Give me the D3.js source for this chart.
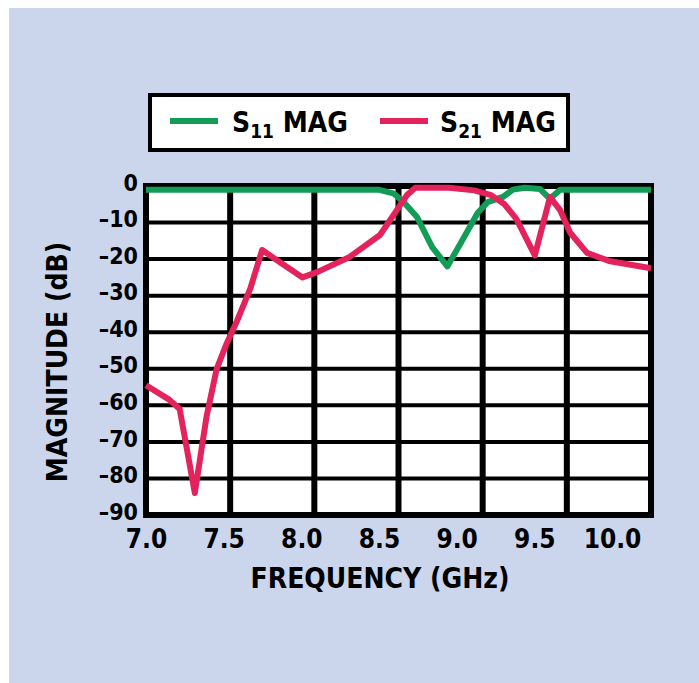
<!DOCTYPE html>
<html>
<head>
<meta charset="utf-8">
<script src="https://cdn.jsdelivr.net/npm/d3@7"></script>
<style>
  html, body { margin: 0; padding: 0; background: #fff; }
  svg { display: block; }
  text { font-family: "DejaVu Sans Condensed", "DejaVu Sans", sans-serif; font-weight: bold; fill: #000; }
</style>
</head>
<body>
<svg id="chart" width="699" height="683"></svg>
<script>
// S11 magnitude (green), dB vs GHz
const s11Freq = [7.0, 8.0, 8.38, 8.47, 8.53, 8.61, 8.70, 8.79, 8.87, 8.97, 9.03, 9.12, 9.18, 9.25, 9.34, 9.40, 9.46, 10.0]
const s11Mag  = [-1, -1, -1, -2, -4.4, -8.5, -16.7, -22, -15.6, -7.4, -4.4, -3, -1, -0.5, -0.8, -3.5, -1, -1]

// S21 magnitude (red)
const s21Freq = [7.0, 7.14, 7.20, 7.29, 7.36, 7.42, 7.48, 7.54, 7.62, 7.69, 7.80, 7.93, 8.02, 8.21, 8.39, 8.49, 8.55, 8.60, 8.80, 8.95, 9.05, 9.13, 9.20, 9.31, 9.40, 9.46, 9.52, 9.62, 9.75, 10.0]
const s21Mag  = [-54.5, -58.5, -61, -84, -63, -50, -43, -37, -28, -17.5, -21, -25, -23.5, -19.4, -13.4, -6.6, -2.5, -0.5, -0.5, -1.2, -2.5, -5, -9, -19, -3, -6.6, -12.8, -18.3, -20.5, -22.5]

const freqTicks = [7.0, 7.5, 8.0, 8.5, 9.0, 9.5, 10.0]
const magTicks = [0, -10, -20, -30, -40, -50, -60, -70, -80, -90]

const svg = d3.select('#chart')

// light blue panel
svg.append('rect')
    .attr('x', 9).attr('y', 8)
    .attr('width', 690).attr('height', 675)
    .attr('fill', '#cbd6ec')

const x = d3.scaleLinear([7, 10], [146, 651])
const y = d3.scaleLinear([0, -90], [186, 515])
// the printed frequency labels sit a bit left of the gridlines
const xLabel = d3.scaleLinear([7, 10], [146, 612])

svg.append('rect')
    .attr('x', x(7)).attr('y', y(0))
    .attr('width', x(10) - x(7)).attr('height', y(-90) - y(0))
    .attr('fill', '#fff')

// grid
svg.append('g')
    .selectAll('line')
    .data(magTicks.slice(1, -1))
    .join('line')
    .attr('x1', x(7)).attr('x2', x(10))
    .attr('y1', d => y(d)).attr('y2', d => y(d))
    .attr('stroke', '#000').attr('stroke-width', 4)

svg.append('g')
    .selectAll('line')
    .data(freqTicks.slice(1, -1))
    .join('line')
    .attr('x1', d => x(d)).attr('x2', d => x(d))
    .attr('y1', y(0)).attr('y2', y(-90))
    .attr('stroke', '#000').attr('stroke-width', 6)

svg.append('rect')
    .attr('x', x(7)).attr('y', y(0))
    .attr('width', x(10) - x(7)).attr('height', y(-90) - y(0))
    .attr('fill', 'none')
    .attr('stroke', '#000').attr('stroke-width', 6)

const line = d3.line()
    .x(d => x(d[0]))
    .y(d => y(d[1]))

svg.append('path')
    .datum(d3.zip(s11Freq, s11Mag))
    .attr('d', line)
    .attr('fill', 'none')
    .attr('stroke', '#129c56').attr('stroke-width', 6)
    .attr('stroke-linejoin', 'round')

svg.append('path')
    .datum(d3.zip(s21Freq, s21Mag))
    .attr('d', line)
    .attr('fill', 'none')
    .attr('stroke', '#e4235c').attr('stroke-width', 6)
    .attr('stroke-linejoin', 'round')

// axes
const yAxis = d3.axisLeft(y)
    .tickValues(magTicks)
    .tickSize(0)
    .tickPadding(8)
    .tickFormat(d => d === 0 ? '0' : '\u2013' + Math.abs(d))
svg.append('g')
    .attr('transform', `translate(${x(7)},0)`)
    .call(yAxis)
    .call(g => g.select('.domain').remove())
    .selectAll('text')
    .attr('font-family', null)
    .attr('font-size', null)
    .attr('dy', '0.18em')
    .style('font-size', '23px')

const xAxis = d3.axisBottom(xLabel)
    .tickValues(freqTicks)
    .tickSize(0)
    .tickPadding(15)
    .tickFormat(d3.format('.1f'))
svg.append('g')
    .attr('transform', `translate(0,${y(-90)})`)
    .call(xAxis)
    .call(g => g.select('.domain').remove())
    .selectAll('text')
    .attr('font-family', null)
    .attr('font-size', null)
    .style('font-size', '26px')

// axis titles
svg.append('text')
    .text('FREQUENCY (GHz)')
    .attr('x', 380).attr('y', 588)
    .attr('text-anchor', 'middle')
    .style('font-size', '28px')

svg.append('text')
    .text('MAGNITUDE (dB)')
    .attr('transform', 'translate(67,362) rotate(-90)')
    .attr('text-anchor', 'middle')
    .style('font-size', '28px')

// legend
svg.append('rect')
    .attr('x', 150).attr('y', 95)
    .attr('width', 418).attr('height', 55)
    .attr('fill', '#fff')
    .attr('stroke', '#000').attr('stroke-width', 4)

const legend = [
  {sub: '11', color: '#129c56', x0: 170, tx: 232},
  {sub: '21', color: '#e4235c', x0: 380, tx: 440}
]
const lg = svg.append('g').selectAll('g')
    .data(legend)
    .join('g')
lg.append('line')
    .attr('x1', d => d.x0).attr('x2', d => d.x0 + 48)
    .attr('y1', 121).attr('y2', 121)
    .attr('stroke', d => d.color).attr('stroke-width', 6)
const lt = lg.append('text')
    .attr('x', d => d.tx).attr('y', 132)
    .style('font-size', '28px')
lt.append('tspan').text('S')
lt.append('tspan').text(d => d.sub)
    .attr('dy', 6)
    .style('font-size', '19px')
lt.append('tspan').text(' MAG')
    .attr('dy', -6)
</script>
</body>
</html>
